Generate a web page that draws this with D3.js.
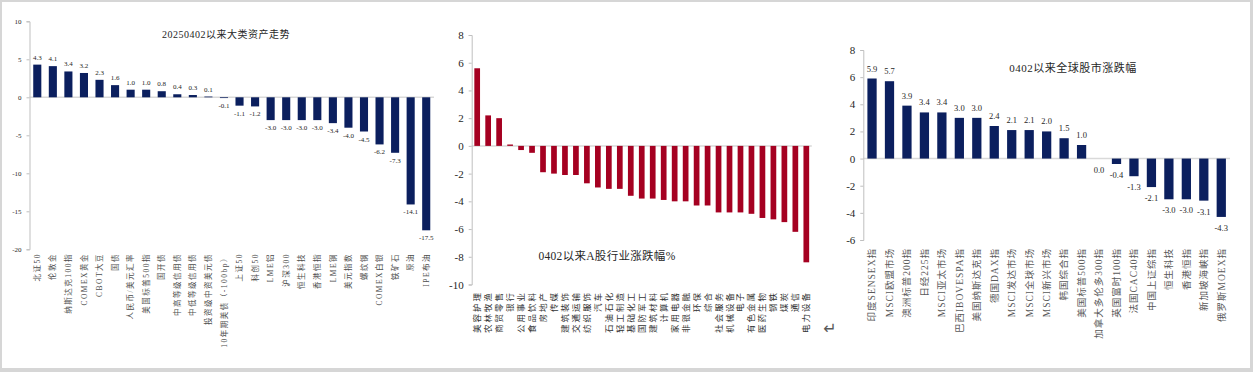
<!DOCTYPE html>
<html><head><meta charset="utf-8">
<script src="https://cdn.jsdelivr.net/npm/d3@7"></script>
<style>
body{margin:0;background:#fff}
svg{display:block}
text{font-family:"Liberation Serif","Times New Roman","Noto Sans CJK SC",serif;fill:#262626}
</style>
</head><body><svg id="c" width="1253" height="372"></svg>
<script>
// ---- Panel 1: 大类资产 ----
const assetTitle = "20250402以来大类资产走势";
const assetCats = ["北证50","伦敦金","纳斯达克100指","COMEX黄金","CBOT大豆","国债","人民币/美元汇率","美国标普500指","国开债","中高等级信用债","中低等级信用债","投资级中资美元债","10年期美债（-100bp）","上证50","科创50","LME铝","沪深300","恒生科技","香港恒指","LME铜","美元指数","螺纹钢","COMEX白银","铁矿石","原油","IPE布油"];
const assetVals = [4.3,4.1,3.4,3.2,2.3,1.6,1.0,1.0,0.8,0.4,0.3,0.1,-0.1,-1.1,-1.2,-3.0,-3.0,-3.0,-3.0,-3.4,-4.0,-4.5,-6.2,-7.3,-14.1,-17.5];
const assetTicks = [10,5,0,-5,-10,-15,-20];

// ---- Panel 2: A股行业 ----
const indTitle = "0402以来A股行业涨跌幅%";
const indCats = ["美容护理","农林牧渔","商贸零售","银行","公用事业","食品饮料","房地产","传媒","建筑装饰","交通运输","纺织服饰","汽车","石油石化","轻工制造","基础化工","国防军工","建筑材料","计算机","家用电器","非银金融","环保","综合","社会服务","机械设备","电子","有色金属","医药生物","钢铁","煤炭","通信","电力设备"];
const indVals = [5.6,2.2,2.0,0.1,-0.3,-0.5,-1.9,-2.0,-2.1,-2.1,-2.7,-3.0,-3.1,-3.1,-3.6,-3.8,-3.8,-3.9,-4.0,-4.0,-4.3,-4.3,-4.8,-4.8,-4.8,-4.9,-5.2,-5.3,-5.5,-6.2,-8.4];
const indTicks = [8,6,4,2,0,-2,-4,-6,-8,-10];

// ---- Panel 3: 全球股市 ----
const mktTitle = "0402以来全球股市涨跌幅";
const mktCats = ["印度SENSEX指","MSCI欧盟市场","澳洲标普200指","日经225指","MSCI亚太市场","巴西IBOVESPA指","美国纳斯达克指","德国DAX指","MSCI发达市场","MSCI全球市场","MSCI新兴市场","韩国综合指","美国标普500指","加拿大多伦多300指","英国富时100指","法国CAC40指","中国上证综指","恒生科技","香港恒指","新加坡海峡指","俄罗斯MOEX指"];
const mktVals = [5.9,5.7,3.9,3.4,3.4,3.0,3.0,2.4,2.1,2.1,2.0,1.5,1.0,0.0,-0.4,-1.3,-2.1,-3.0,-3.0,-3.1,-4.3];
const mktTicks = [8,6,4,2,0,-2,-4,-6];

const svg = d3.select("#c");
// frame
svg.append("rect").attr("x",0).attr("y",0).attr("width",1253).attr("height",372).attr("fill","#d6d6d6");
svg.append("rect").attr("x",2).attr("y",2).attr("width",1248).attr("height",366).attr("fill","#fff");

function panel(o){
  const g = svg.append("g");
  const x = d3.scaleBand().domain(o.cats).range([o.x0,o.x1]).paddingInner(o.pad).paddingOuter(o.pad/2);
  const y = d3.scaleLinear().domain(o.domain).range([o.yb,o.yt]);
  g.append("line").attr("x1",o.x0).attr("x2",o.x1).attr("y1",y(0)).attr("y2",y(0))
    .attr("stroke","#d9d9d9").attr("stroke-width",1.5);
  g.selectAll("rect.b").data(o.vals).join("rect")
    .attr("x",(d,i)=>x(o.cats[i])).attr("width",x.bandwidth())
    .attr("y",d=>y(Math.max(0,d))).attr("height",d=>Math.abs(y(d)-y(0)))
    .attr("fill",o.color);
  const ax = g.append("g").attr("transform",`translate(${o.x0},0)`)
    .call(d3.axisLeft(y).tickValues(o.ticks).tickFormat(d=>String(d)).tickSize(3).tickPadding(5));
  ax.select(".domain").attr("stroke","#bfbfbf");
  ax.selectAll(".tick line").attr("stroke","#bfbfbf");
  ax.selectAll(".tick text").attr("font-size",o.tickFs).style("fill","#262626")
    .style("font-family",'"Liberation Serif","Times New Roman",serif');
  if(o.labels){
    g.selectAll("text.v").data(o.vals).join("text")
      .attr("x",(d,i)=>x(o.cats[i])+x.bandwidth()/2)
      .attr("y",d=> d>0 ? y(d)-o.vUp : y(Math.min(0,d))+o.vDn)
      .attr("text-anchor","middle").attr("font-size",o.vFs)
      .text(d=>d.toFixed(1));
  }
  g.selectAll("text.c").data(o.cats).join("text")
    .attr("transform",d=>`translate(${x(d)+x.bandwidth()/2},${o.catY}) rotate(-90)`)
    .attr("text-anchor","end").attr("dy","0.35em").attr("font-size",o.catFs)
    .style("letter-spacing",o.catLs+"px")
    .style("fill",o.catColor)
    .text(d=>d);
  g.append("text").attr("x",o.tx).attr("y",o.ty).attr("text-anchor","middle")
    .attr("font-size",o.tFs).style("letter-spacing",o.tLs+"px").text(o.title);
}

panel({cats:assetCats,vals:assetVals,ticks:assetTicks,domain:[-20,10],x0:29.5,x1:434,yt:21.3,yb:249.3,
  pad:0.48,color:"#0b1f5e",tickFs:7,labels:true,vUp:5,vDn:10,vFs:7,catY:253,catFs:7.5,catLs:1.5,catColor:"#4d4d4d",
  title:assetTitle,tx:226,ty:37.5,tFs:10,tLs:0.5});
panel({cats:indCats,vals:indVals,ticks:indTicks,domain:[-10,8],x0:471.7,x1:811.8,yt:35,yb:284.5,
  pad:0.48,color:"#a50021",tickFs:11,labels:false,catY:291,catFs:8.5,catLs:2,catColor:"#333",
  title:indTitle,tx:607,ty:260,tFs:11.5,tLs:0.3});
panel({cats:mktCats,vals:mktVals,ticks:mktTicks,domain:[-6,8],x0:863.3,x1:1230,yt:50,yb:240,
  pad:0.47,color:"#0b1f5e",tickFs:11,labels:true,vUp:7,vDn:14,vFs:8.5,catY:248,catFs:9.5,catLs:1,catColor:"#595959",
  title:mktTitle,tx:1073,ty:72,tFs:11,tLs:0.5});
svg.append("text").attr("x",830).attr("y",334).attr("text-anchor","middle").attr("font-size",16)
  .style("fill","#595959").style("font-family",'"DejaVu Sans",sans-serif').text("↵");
</script></body></html>
